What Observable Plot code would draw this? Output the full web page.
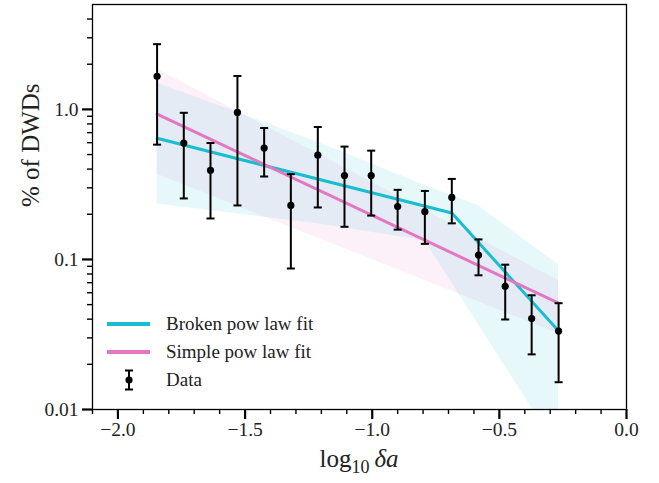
<!DOCTYPE html>
<html><head><meta charset="utf-8">
<script src="https://cdn.jsdelivr.net/npm/d3@7"></script>
<script src="https://cdn.jsdelivr.net/npm/@observablehq/plot@0.6"></script>
<style>
body{margin:0;background:#fff;}
#wrap{position:relative;width:659px;height:483px;font-family:"Liberation Serif",serif;}
.leg{position:absolute;font-size:19px;color:#222;line-height:19px;white-space:nowrap;}
.sw{position:absolute;height:3.5px;width:43px;}
</style></head><body><div id="wrap"></div>
<script>
// bin centres (log10 delta a)
const binX = [-1.846, -1.741, -1.636, -1.530, -1.425, -1.320, -1.214, -1.109, -1.004, -0.900, -0.793, -0.687, -0.582, -0.477, -0.373, -0.267];
// % of DWDs and error bar ends
const pct   = [1.66, 0.597, 0.393, 0.955, 0.553, 0.229, 0.495, 0.362, 0.362, 0.225, 0.208, 0.259, 0.107, 0.0663, 0.0404, 0.0333];
const pctHi = [2.72, 0.949, 0.597, 1.67, 0.751, 0.370, 0.763, 0.565, 0.531, 0.291, 0.286, 0.344, 0.136, 0.0923, 0.0577, 0.0511];
const pctLo = [0.582, 0.255, 0.1875, 0.229, 0.357, 0.087, 0.222, 0.165, 0.196, 0.158, 0.127, 0.174, 0.0784, 0.0398, 0.0233, 0.0152];
// fits
const brokenX = [-1.846, -0.687, -0.267];
const brokenY = [0.642, 0.204, 0.0333];
const simpleX = [-1.846, -0.267];
const simpleY = [0.931, 0.0511];
// confidence bands
const brokenBandX  = [-1.846, -1.214, -0.793, -0.582, -0.267];
const brokenBandLo = [0.234, 0.173, 0.1334, 0.0367, 0.00537];
const brokenBandHi = [1.502, 0.604, 0.312, 0.228, 0.0919];
const simpleBandX  = [-1.846, -0.267];
const simpleBandLo = [0.370, 0.032];
const simpleBandHi = [1.86, 0.0723];
// ticks
const xMajor = [-2.0, -1.5, -1.0, -0.5, 0.0];
const xMajorLabels = ["\u22122.0", "\u22121.5", "\u22121.0", "\u22120.5", "0.0"];
const xMinor = d3.range(-21, 1).filter(i => i % 5 !== 0).map(i => i / 10);
const yMajor = [0.01, 0.1, 1];
const yMajorLabels = ["0.01", "0.1", "1.0"];
const yMinor = [0.02,0.03,0.04,0.05,0.06,0.07,0.08,0.09,0.2,0.3,0.4,0.5,0.6,0.7,0.8,0.9,2,3,4];

const CYAN = "#17becf", PINK = "#e377c2";
const pts = binX.map((x, i) => ({x, y: pct[i], lo: pctLo[i], hi: pctHi[i]}));
const broken = brokenX.map((x, i) => ({x, y: brokenY[i]}));
const simple = simpleX.map((x, i) => ({x, y: simpleY[i]}));
const bBand = brokenBandX.map((x, i) => ({x, lo: brokenBandLo[i], hi: brokenBandHi[i]}));
const sBand = simpleBandX.map((x, i) => ({x, lo: simpleBandLo[i], hi: simpleBandHi[i]}));
const cap = {draw(ctx) { ctx.moveTo(-4, 0); ctx.lineTo(4, 0); }};

const chart = Plot.plot({
  width: 659, height: 483,
  marginLeft: 92, marginRight: 33, marginTop: 4, marginBottom: 74,
  style: {fontFamily: '"Liberation Serif", serif', fontSize: "19.5px", color: "#000", background: "#fff", overflow: "visible"},
  x: {domain: [-2.1, 0]},
  y: {type: "log", domain: [0.01, 5]},
  marks: [
    Plot.areaY(sBand, {x: "x", y1: "lo", y2: "hi", fill: PINK, fillOpacity: 0.1, clip: true}),
    Plot.areaY(bBand, {x: "x", y1: "lo", y2: "hi", fill: CYAN, fillOpacity: 0.1, clip: true}),
    Plot.line(broken, {x: "x", y: "y", stroke: CYAN, strokeWidth: 3}),
    Plot.line(simple, {x: "x", y: "y", stroke: PINK, strokeWidth: 3}),
    Plot.ruleX(pts, {x: "x", y1: "lo", y2: "hi", stroke: "#000", strokeWidth: 2}),
    Plot.dot(pts, {x: "x", y: "hi", symbol: cap, stroke: "#000", strokeWidth: 2, fill: "none"}),
    Plot.dot(pts, {x: "x", y: "lo", symbol: cap, stroke: "#000", strokeWidth: 2, fill: "none"}),
    Plot.dot(pts, {x: "x", y: "y", r: 3.6, fill: "#000"}),
    Plot.frame({stroke: "#000", strokeWidth: 1.3}),
    Plot.axisX(xMajor, {tickSize: 10, strokeWidth: 2.2, tickPadding: 3, tickFormat: (d, i) => xMajorLabels[xMajor.indexOf(d)], label: null, fill: "#222"}),
    Plot.axisX(xMinor, {tickSize: 5, strokeWidth: 1.4, text: null, label: null}),
    Plot.axisY(yMajor, {tickSize: 10, strokeWidth: 2.2, tickPadding: 4, tickFormat: d => yMajorLabels[yMajor.indexOf(d)], label: null, fill: "#222"}),
    Plot.axisY(yMinor, {tickSize: 5, strokeWidth: 1.4, text: null, label: null}),
    Plot.text(["% of DWDs"], {frameAnchor: "left", rotate: -90, dx: -62, fontSize: 25, fill: "#222"})
  ]
});
const wrap = document.getElementById("wrap");
wrap.appendChild(chart);

// x axis label with subscript
const xl = d3.select(chart).append("text")
  .attr("x", 359).attr("y", 467).attr("text-anchor", "middle")
  .attr("font-size", 25).attr("fill", "#222");
xl.append("tspan").text("log");
xl.append("tspan").attr("font-size", 18).attr("dy", 6).text("10");
xl.append("tspan").attr("dy", -6).text("\u2009");
xl.append("tspan").attr("font-style", "italic").text("\u03b4a");

// legend
const legend = [
  {label: "Broken pow law fit", color: CYAN, y: 324},
  {label: "Simple pow law fit", color: PINK, y: 352},
  {label: "Data", color: null, y: 380}
];
for (const l of legend) {
  if (l.color) {
    const s = document.createElement("div");
    s.className = "sw"; s.style.left = "107px"; s.style.top = (l.y - 1.75) + "px"; s.style.background = l.color;
    wrap.appendChild(s);
  } else {
    const ns = "http://www.w3.org/2000/svg";
    const svg = document.createElementNS(ns, "svg");
    svg.setAttribute("width", 16); svg.setAttribute("height", 24);
    svg.style.position = "absolute"; svg.style.left = "121px"; svg.style.top = (l.y - 12) + "px";
    svg.innerHTML = '<path d="M8,2.5V21.5M4,2.5H12M4,21.5H12" stroke="#000" stroke-width="2" fill="none"/><circle cx="8" cy="12" r="3.6" fill="#000"/>';
    wrap.appendChild(svg);
  }
  const t = document.createElement("div");
  t.className = "leg"; t.textContent = l.label;
  t.style.left = "166px"; t.style.top = (l.y - 10) + "px";
  wrap.appendChild(t);
}
</script></body></html>
